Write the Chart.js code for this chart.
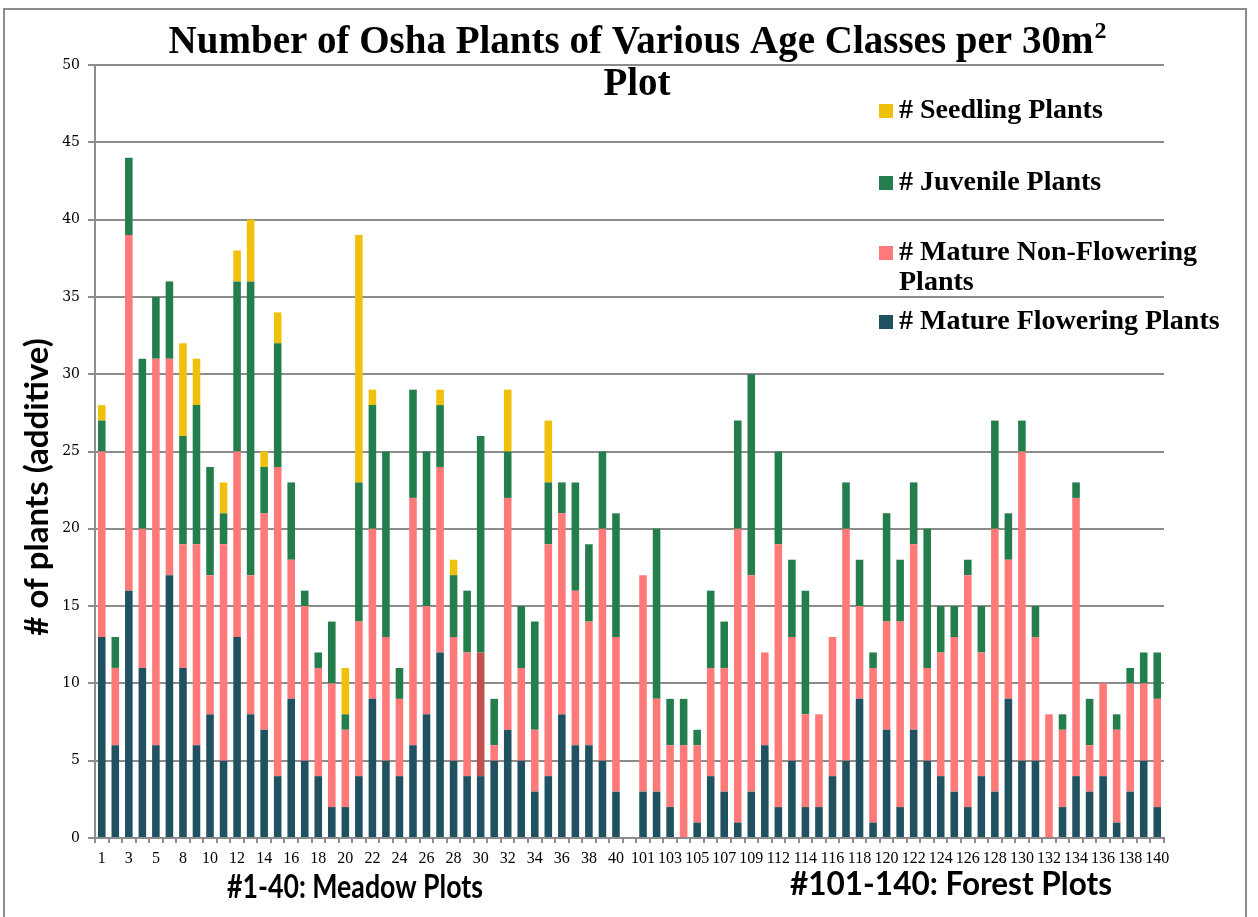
<!DOCTYPE html>
<html><head><meta charset="utf-8">
<script src="https://cdn.jsdelivr.net/npm/chart.js@4/dist/chart.umd.min.js"></script>
<style>html,body{margin:0;padding:0;background:#fff;overflow:hidden}
#wrap{position:relative;width:1258px;height:917px}</style></head>
<body><div id="wrap"><canvas id="c" width="1258" height="917"></canvas></div>
<script>
// Plot numbers (one blank slot separates meadow and forest plots)
const plotLabels = ['1','2','3','4','5','6','8','9','10','11','12','13','14','15','16','17','18','19','20','21',
  '22','23','24','25','26','27','28','29','30','31','32','33','34','35','36','37','38','39','40','',
  '101','102','103','104','105','106','107','108','109','110','112','113','114','115','116','117','118','119','120','121',
  '122','123','124','125','126','127','128','129','130','131','132','133','134','135','136','137','138','139','140'];
const matureFlowering = [13,6,16,11,6,17,11,6,8,5,13,8,7,4,9,5,4,2,2,4,
  9,5,4,6,8,12,5,4,4,5,7,5,3,4,8,6,6,5,3,null,
  3,3,2,0,1,4,3,1,3,6,2,5,2,2,4,5,9,1,7,2,
  7,5,4,3,2,4,3,9,5,5,0,2,4,3,4,1,3,5,2];
const matureNonFlowering = [12,5,23,9,25,14,8,13,9,14,12,9,14,20,9,10,7,8,5,10,
  11,8,5,16,7,12,8,8,8,1,15,6,4,15,13,10,8,15,10,null,
  14,6,4,6,5,7,8,19,14,6,17,8,6,6,9,15,6,10,7,12,
  12,6,8,10,15,8,17,9,20,8,8,5,18,3,6,6,7,5,7];
const juvenile = [2,2,5,11,4,5,7,9,7,2,11,19,3,8,5,1,1,4,1,9,
  8,12,2,7,10,4,4,4,14,3,3,4,7,4,2,7,5,5,8,null,
  0,11,3,3,1,5,3,7,13,0,6,5,8,0,0,3,3,1,7,4,
  4,9,3,2,1,3,7,3,2,2,0,1,1,3,0,1,1,2,3];
const seedling = [1,0,0,0,0,0,6,3,0,2,2,4,1,2,0,0,0,0,3,16,
  1,0,0,0,0,1,1,0,0,0,4,0,0,4,0,0,0,0,0,null,
  0,0,0,0,0,0,0,0,0,0,0,0,0,0,0,0,0,0,0,0,
  0,0,0,0,0,0,0,0,0,0,0,0,0,0,0,0,0,0,0];
const yTicks = [0,5,10,15,20,25,30,35,40,45,50];
const seriesNames = ['# Mature Flowering Plants','# Mature Non-Flowering Plants','# Juvenile Plants','# Seedling Plants'];

const C_FLOW = 'rgb(31,81,96)', C_NONF = 'rgb(255,121,120)', C_JUV = 'rgb(36,125,76)', C_SEED = 'rgb(240,193,12)', C_RED = 'rgb(192,80,77)';
const GRID = '#8c8c8c';

function drawFitted(ctx, text, cx, y, font, targetWidth) {
  ctx.save();
  ctx.font = font;
  const w = ctx.measureText(text).width;
  const sx = Math.min(1, targetWidth / w);
  ctx.translate(cx, y);
  ctx.scale(sx, 1);
  ctx.textAlign = 'center';
  ctx.fillText(text, 0, 0);
  ctx.restore();
}

const decor = {
  id: 'decor',
  beforeDraw(chart) {
    const ctx = chart.ctx;
    ctx.save();
    ctx.fillStyle = '#fff';
    ctx.fillRect(0, 0, chart.width, chart.height);
    ctx.strokeStyle = '#8c8c8c';
    ctx.lineWidth = 2;
    ctx.beginPath();
    ctx.moveTo(4, 930); ctx.lineTo(4, 9); ctx.lineTo(1246, 9); ctx.lineTo(1246, 930);
    ctx.stroke();
    ctx.restore();
  },
  afterDraw(chart) {
    const ctx = chart.ctx;
    ctx.save();
    ctx.fillStyle = '#000';
    // title
    const t1 = 'Number of Osha Plants of Various Age Classes per 30m';
    ctx.font = 'bold 39px "Liberation Serif"';
    const w1 = ctx.measureText(t1).width;
    ctx.font = 'bold 24px "Liberation Serif"';
    const w2 = ctx.measureText('2').width;
    let x0 = 637 - (w1 + w2) / 2;
    ctx.textBaseline = 'alphabetic';
    ctx.textAlign = 'left';
    ctx.font = 'bold 39px "Liberation Serif"';
    ctx.fillText(t1, x0, 53);
    ctx.font = 'bold 24px "Liberation Serif"';
    ctx.fillText('2', x0 + w1 + 1, 38);
    ctx.font = 'bold 39px "Liberation Serif"';
    ctx.textAlign = 'center';
    ctx.fillText('Plot', 637, 95);
    // legend
    const items = [[C_SEED, ['# Seedling Plants'], 111], [C_JUV, ['# Juvenile Plants'], 183],
      [C_NONF, ['# Mature Non-Flowering', 'Plants'], 253], [C_FLOW, ['# Mature Flowering Plants'], 322]];
    ctx.textAlign = 'left';
    ctx.textBaseline = 'middle';
    ctx.font = 'bold 28px "Liberation Serif"';
    items.forEach(([col, lines, y]) => {
      ctx.fillStyle = col;
      ctx.fillRect(879, y - 7, 14, 14);
      ctx.fillStyle = '#000';
      lines.forEach((ln, i) => ctx.fillText(ln, 899, y + i * 30));
    });
    // axis titles
    ctx.textBaseline = 'alphabetic';
    drawFitted(ctx, '#1-40: Meadow Plots', 355, 898, 'bold 33px Lato', 256);
    drawFitted(ctx, '#101-140: Forest Plots', 951, 895, 'bold 33px Lato', 322);
    ctx.textBaseline = 'middle';
    ctx.textAlign = 'center';
    ctx.translate(37, 487);
    ctx.rotate(-Math.PI / 2);
    ctx.font = 'bold 33px Lato';
    ctx.fillText('# of plants (additive)', 0, 0);
    ctx.restore();
  }
};

const ds = (label, data, color) => ({ label, data, backgroundColor: color, borderWidth: 0,
  barPercentage: 0.56, categoryPercentage: 1.0 });

new Chart(document.getElementById('c'), {
  type: 'bar',
  data: {
    labels: plotLabels,
    datasets: [
      ds(seriesNames[0], matureFlowering, C_FLOW),
      ds(seriesNames[1], matureNonFlowering, plotLabels.map(l => l === '30' ? C_RED : C_NONF)),
      ds(seriesNames[2], juvenile, C_JUV),
      ds(seriesNames[3], seedling, C_SEED)
    ]
  },
  options: {
    responsive: false,
    animation: false,
    layout: { padding: { left: 0, right: 94, top: 65, bottom: 0 } },
    plugins: { legend: { display: false }, title: { display: false }, tooltip: { enabled: false } },
    scales: {
      x: {
        stacked: true,
        afterFit: s => { s.height = 79; },
        grid: { display: true, drawOnChartArea: false, drawTicks: true, tickLength: 5, color: GRID, lineWidth: 2, offset: true },
        border: { display: true, color: GRID, width: 2 },
        ticks: { autoSkip: false, maxRotation: 0, minRotation: 0, padding: 6, color: '#000',
          font: { family: '"Liberation Serif"', size: 16 },
          callback: (v, i) => (i % 2 === 0 ? plotLabels[i] : '') }
      },
      y: {
        stacked: true,
        min: 0, max: 50,
        afterFit: s => { s.width = 95; },
        afterBuildTicks: s => { s.ticks = yTicks.map(v => ({ value: v })); },
        grid: { color: GRID, lineWidth: 2, tickLength: 7 },
        border: { display: true, color: GRID, width: 2 },
        ticks: { padding: 8, color: '#000', font: { family: '"DejaVu Serif"', size: 14 } }
      }
    }
  },
  plugins: [decor]
});
</script></body></html>
